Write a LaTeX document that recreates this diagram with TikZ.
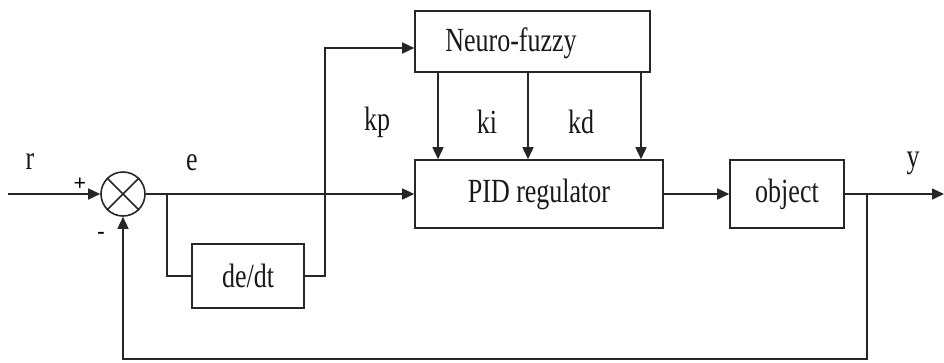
\documentclass[tikz,border=0pt]{standalone}
\usepackage{fontspec}
\setmainfont{Liberation Serif}
\usetikzlibrary{arrows.meta}
\newcommand{\stx}[1]{\scalebox{1}[1.3]{#1}}
\begin{document}
\begin{tikzpicture}[x=1pt,y=-1pt,
  line width=1.6pt, draw=black!85,
  blk/.style={draw, rectangle, inner sep=0pt},
  txt/.style={font=\fontsize{26}{30}\selectfont, inner sep=0pt, text=black!90},
  sml/.style={font=\fontsize{22}{26}\selectfont\bfseries, inner sep=0pt},
  arr/.style={-{Triangle[length=12pt,width=11pt]}}]
\useasboundingbox (0,0) rectangle (944,362);
% blocks
\node[blk, minimum width=235pt, minimum height=61pt] (nf) at (532.5,41.5) {};
\node[txt] (nftext) at (511,43) {\stx{Neuro-fuzzy}};
\node[blk, txt, minimum width=248pt, minimum height=68pt] (pid) at (539,194) {\stx{PID regulator}};
\node[blk, txt, minimum width=114pt, minimum height=68pt] (obj) at (787,194) {\stx{object}};
\node[blk, txt, minimum width=112pt, minimum height=64pt] (ddt) at (248,276) {\stx{de/dt}};
\node[draw, circle, minimum size=44pt, inner sep=0pt] (sum) at (123,194) {};
\draw (sum.45) -- (sum.225);
\draw (sum.135) -- (sum.315);
% coordinates
\coordinate (in) at (8,194);
\coordinate (out) at (944,194);
\coordinate (b1) at (167,194);
\coordinate (b2) at (867,194);
\coordinate (up) at (325,48);
\coordinate (fb) at (867,359);
% connectors
\draw[arr] (in) -- (sum.west);
\draw[arr] (sum.east) -- (pid.west);
\draw (b1) |- (ddt.west);
\draw[arr] (ddt.east) -| (up) -- (up -| nf.west);
\foreach \x in {438,528,641} \draw[arr] (nf.south -| \x,0) -- (pid.north -| \x,0);
\draw[arr] (pid.east) -- (obj.west);
\draw[arr] (obj.east) -- (out);
\draw[arr] (b2) -- (fb) -| (sum.south);
% labels
\node[txt] (lr) at (30,162) {\stx{r}};
\node[txt] (le) at (192,163) {\stx{e}};
\node[txt] (ly) at (913,163) {\stx{y}};
\node[txt] (lkp) at (377,122) {\stx{kp}};
\node[txt] (lki) at (487,122) {\stx{ki}};
\node[txt] (lkd) at (581,122) {\stx{kd}};
\node[sml] (lplus) at (80,184) {+};
\node[sml] (lminus) at (101,235) {-};
\end{tikzpicture}
\end{document}
